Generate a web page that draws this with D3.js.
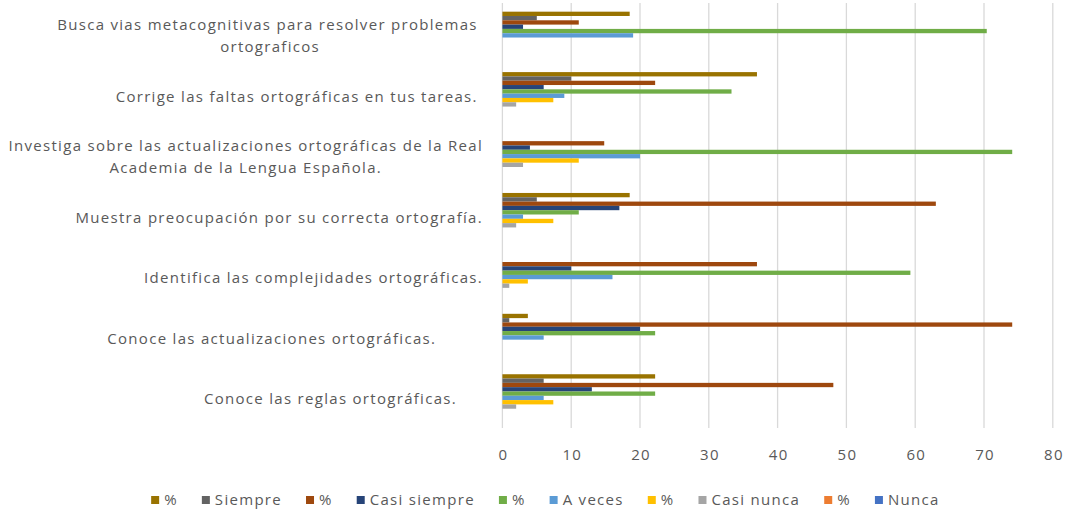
<!DOCTYPE html>
<html>
<head>
<meta charset="utf-8">
<script src="https://cdn.jsdelivr.net/npm/d3@7"></script>
<style>
  html, body { margin: 0; padding: 0; background: #fff; }
  svg { display: block; }
  text { font-family: "Open Sans", sans-serif; fill: #595959; letter-spacing: 1.3px; }
</style>
</head>
<body>
<svg id="chart" width="1068" height="514"></svg>
<script>
// ---- Data (categories listed top to bottom; "\n" marks wrapped label lines) ----
const categories = [
  "Busca vias metacognitivas para resolver problemas \nortograficos",
  "Corrige las faltas ortográficas en tus tareas. ",
  "Investiga sobre las actualizaciones ortográficas de la Real\nAcademia de la Lengua Española.",
  "Muestra preocupación por su correcta ortografía.",
  "Identifica las complejidades ortográficas.",
  "Conoce las actualizaciones ortográficas.         ",
  "Conoce las reglas ortográficas.     "
];
const seriesNames = ["%", "Siempre", "%", "Casi siempre", "%", "A veces", "%", "Casi nunca", "%", "Nunca"];
const pctSiempre     = [18.5, 37.0, 0, 18.5, 0, 3.7, 22.2];
const siempre        = [5, 10, 0, 5, 0, 1, 6];
const pctCasiSiempre = [11.1, 22.2, 14.8, 63.0, 37.0, 74.1, 48.1];
const casiSiempre    = [3, 6, 4, 17, 10, 20, 13];
const pctAVeces      = [70.4, 33.3, 74.1, 11.1, 59.3, 22.2, 22.2];
const aVeces         = [19, 9, 20, 3, 16, 6, 6];
const pctCasiNunca   = [0, 7.4, 11.1, 7.4, 3.7, 0, 7.4];
const casiNunca      = [0, 2, 3, 2, 1, 0, 2];
const pctNunca       = [0, 0, 0, 0, 0, 0, 0];
const nunca          = [0, 0, 0, 0, 0, 0, 0];
const xTicks = [0, 10, 20, 30, 40, 50, 60, 70, 80];

const seriesValues = [pctSiempre, siempre, pctCasiSiempre, casiSiempre, pctAVeces, aVeces, pctCasiNunca, casiNunca, pctNunca, nunca];
const colors = ["#997300", "#636363", "#9E480E", "#264478", "#70AD47", "#5B9BD5", "#FFC000", "#A5A5A5", "#ED7D31", "#4472C4"];

// ---- Layout ----
const svg = d3.select("#chart");
const plot = { left: 502.4, right: 1052.8, top: 3, bottom: 426 };
const fontSize = 15;

const x = d3.scaleLinear().domain([0, 80]).range([plot.left, plot.right]);
const y = d3.scaleBand().domain(d3.range(categories.length))
  .range([plot.top, plot.bottom]).paddingInner(0.287).paddingOuter(0.1435);
const ys = d3.scaleBand().domain(d3.range(seriesNames.length)).range([0, y.bandwidth()]);

// gridlines
svg.append("g").selectAll("line").data(xTicks).join("line")
  .attr("x1", d => x(d)).attr("x2", d => x(d))
  .attr("y1", plot.top).attr("y2", plot.bottom + 2)
  .attr("stroke", "#d9d9d9").attr("stroke-width", 1.3);

// bars
const groups = svg.append("g").selectAll("g").data(categories).join("g")
  .attr("transform", (d, i) => `translate(0,${y(i)})`);
groups.selectAll("rect")
  .data((d, i) => seriesValues.map((vals, s) => ({ s, v: vals[i] })))
  .join("rect")
  .attr("x", x(0))
  .attr("y", d => ys(d.s))
  .attr("width", d => Math.max(0, x(d.v) - x(0)))
  .attr("height", ys.bandwidth())
  .attr("fill", d => colors[d.s]);

// x axis tick labels
const xAxis = d3.axisBottom(x).tickValues(xTicks).tickSize(0).tickPadding(0);
const xg = svg.append("g").attr("transform", `translate(0,${plot.bottom})`).call(xAxis);
xg.select(".domain").remove();
xg.selectAll("text")
  .attr("y", 29).attr("dy", "0.35em").attr("dx", "0.6")
  .style("font-family", "\"Open Sans\", sans-serif")
  .style("font-size", fontSize + "px")
  .style("fill", "#595959");

// category labels: right-aligned block, lines centered inside block
const labelRight = 483;
const lineH = 22;
categories.forEach((cat, i) => {
  const lines = cat.split("\n");
  const cy = y(i) + y.bandwidth() / 2 + 3;
  const g = svg.append("g");
  const texts = lines.map((ln, k) => g.append("text")
    .attr("xml:space", "preserve")
    .style("white-space", "pre")
    .style("font-size", fontSize + "px")
    .attr("text-anchor", "middle")
    .attr("dy", "0.35em")
    .attr("y", cy + (k - (lines.length - 1) / 2) * lineH)
    .text(ln));
  const widths = texts.map(t => t.node().getComputedTextLength());
  const blockW = d3.max(widths);
  texts.forEach(t => t.attr("x", labelRight - blockW / 2));
});

// legend
const legendCY = 500;
const legend = svg.append("g");
const items = seriesNames.map((name, s) => {
  const g = legend.append("g");
  g.append("rect").attr("width", 8).attr("height", 8).attr("y", legendCY - 4).attr("fill", colors[s]);
  const t = g.append("text").attr("x", 13).attr("y", legendCY).attr("dy", "0.35em")
    .style("font-size", fontSize + "px").text(name);
  return { g, w: 13 + t.node().getComputedTextLength() };
});
const gap = 24;
const totalW = d3.sum(items, d => d.w) + gap * (items.length - 1);
let cx = 545.4 - totalW / 2;
items.forEach(it => { it.g.attr("transform", `translate(${cx},0)`); cx += it.w + gap; });
</script>
</body>
</html>
